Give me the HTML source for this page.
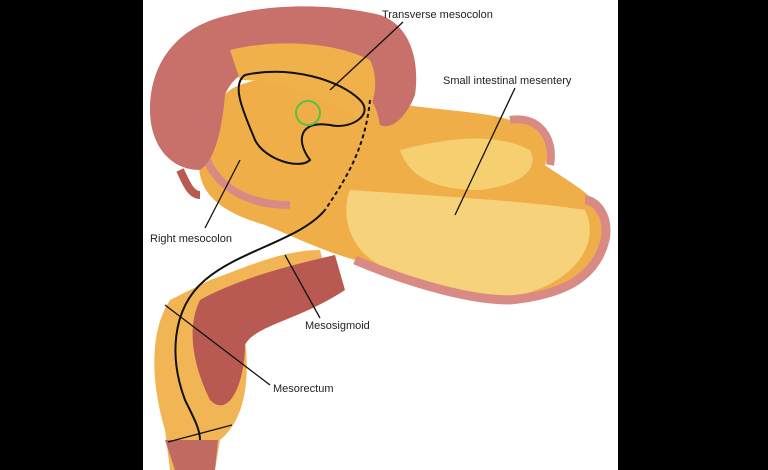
<!DOCTYPE html>
<html><head><style>
html,body{margin:0;padding:0;background:#000;}
body{width:768px;height:470px;overflow:hidden;position:relative;}
svg{position:absolute;left:0;top:0;}
text{font-family:"Liberation Sans",sans-serif;font-size:11px;fill:#222;}
</style></head><body>
<svg width="768" height="470" viewBox="0 0 768 470">
<rect x="0" y="0" width="768" height="470" fill="#000"/>
<rect x="143" y="0" width="475" height="470" fill="#fff"/>
<!-- rectum/sigmoid lower -->
<path d="M170,300 C150,330 150,380 165,430 L170,470 L215,470 L220,440 C245,420 250,380 245,340 C260,320 300,310 330,290 L320,250 C280,250 240,270 210,280 Z" fill="#f2b555"/>
<path d="M200,300 C185,330 195,370 210,400 C230,420 245,380 245,345 C255,325 300,320 345,290 L335,255 C290,265 235,280 200,300 Z" fill="#b85a52"/>
<path d="M165,440 L175,470 L215,470 L218,440 Z" fill="#c06a62"/>
<!-- central mesentery -->
<path d="M230,90 C260,70 360,70 380,100 C420,110 480,110 510,120 C540,115 555,140 545,165 C580,190 610,200 605,240 C595,280 560,295 510,300 C460,300 390,275 355,260 C320,250 290,235 265,225 C230,215 205,200 200,175 C195,140 205,110 230,90 Z" fill="#f0ae48"/>
<path d="M350,190 C420,195 520,200 585,210 C600,240 580,280 520,295 C470,298 420,280 380,265 C350,250 340,215 350,190 Z" fill="#f6d27a"/>
<path d="M400,150 C440,140 490,130 530,150 C540,170 520,185 480,190 C440,190 410,180 400,150 Z" fill="#f6cf70"/>
<!-- pink rims -->
<path d="M355,260 C390,275 460,300 510,300 C560,295 595,280 605,240 C610,215 595,200 585,200" fill="none" stroke="#d98a85" stroke-width="9"/>
<path d="M510,120 C540,115 555,140 550,165" fill="none" stroke="#d98a85" stroke-width="8"/>
<path d="M205,155 C215,185 245,205 290,205" fill="none" stroke="#d98a85" stroke-width="8"/>
<!-- transverse colon -->
<path d="M150,110 C150,60 180,25 230,15 C280,2 340,5 380,15 C410,25 420,60 415,95 C405,120 390,130 380,125 C375,90 350,70 300,65 C260,62 235,70 225,95 C222,130 215,160 200,170 C170,170 150,145 150,110 Z" fill="#c8706a"/>
<path d="M230,50 C270,40 330,40 370,60 C380,80 375,110 360,120 C330,100 290,80 240,80 Z" fill="#f0b04a"/>
<path d="M180,170 C185,180 190,195 200,195" fill="none" stroke="#b85a52" stroke-width="8"/>
<!-- lines -->
<path d="M245,75 C290,65 340,80 360,100 C375,115 350,130 330,125 C300,120 295,140 310,160 C300,170 265,160 255,140 C245,115 230,85 245,75 Z" fill="none" stroke="#111" stroke-width="2"/>
<path d="M370,100 C365,150 345,180 325,210" fill="none" stroke="#111" stroke-width="2" stroke-dasharray="4,3"/>
<path d="M325,210 C300,240 240,250 205,280 C170,310 170,360 185,400 C195,420 200,430 200,440" fill="none" stroke="#111" stroke-width="2"/>
<circle cx="308" cy="113" r="12" fill="none" stroke="#5cc040" stroke-width="2"/>
<!-- leader lines -->
<line x1="403" y1="22" x2="330" y2="90" stroke="#111" stroke-width="1.3"/>
<line x1="515" y1="88" x2="455" y2="215" stroke="#111" stroke-width="1.3"/>
<line x1="205" y1="228" x2="240" y2="160" stroke="#111" stroke-width="1.3"/>
<line x1="320" y1="318" x2="285" y2="255" stroke="#111" stroke-width="1.3"/>
<line x1="270" y1="385" x2="165" y2="305" stroke="#111" stroke-width="1.3"/>
<line x1="168" y1="442" x2="232" y2="425" stroke="#111" stroke-width="1.3"/>
<text x="382" y="18">Transverse mesocolon</text>
<text x="443" y="84">Small intestinal mesentery</text>
<text x="150" y="242">Right mesocolon</text>
<text x="305" y="329">Mesosigmoid</text>
<text x="273" y="392">Mesorectum</text>
</svg>
</body></html>
